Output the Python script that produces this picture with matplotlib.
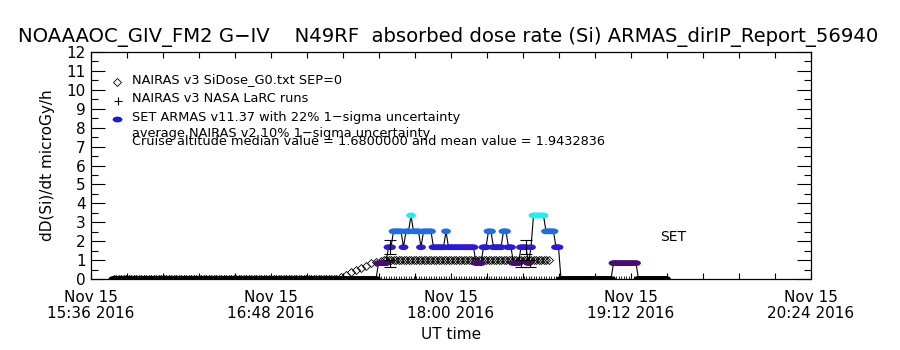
import numpy as np
import matplotlib
matplotlib.use('Agg')
import matplotlib.pyplot as plt
from matplotlib.path import Path
from matplotlib.transforms import Affine2D
from matplotlib.ticker import MultipleLocator, FixedLocator

# time axis: minutes after Nov 15 2016 15:36 UT
tick_minutes = [0, 72, 144, 216, 288]
tick_labels = ['Nov 15\n15:36 2016', 'Nov 15\n16:48 2016', 'Nov 15\n18:00 2016',
               'Nov 15\n19:12 2016', 'Nov 15\n20:24 2016']

# ARMAS 1-minute samples, stored as run lengths of dose quanta (0.84 microGy/h)
armas_start = 9
armas_quantum = 0.84
armas_levels = [0, 1, 2, 3, 2, 3, 4, 3, 2, 3, 2, 3, 2, 1, 2, 3, 2, 3, 2, 1, 2, 1, 2, 4, 3, 2, 0, 1, 0]
armas_counts = [106, 4, 2, 4, 1, 2, 1, 3, 1, 4, 5, 1, 11, 3, 2, 2, 4, 2, 2, 3, 3, 1, 1, 5, 4, 2, 21, 10, 12]
level_colors = ['black', '#4a0c74', '#2a18dc', '#1c6ee6', '#1cf0f0']

# NAIRAS v3 SiDose_G0 (diamonds): zero before climb, climb, cruise plateau
nairas_zero_start, nairas_zero_end = 9, 98
nairas_climb_t = [100, 102, 104, 106, 108, 110, 112, 114, 116]
nairas_climb_v = [0.10, 0.22, 0.35, 0.47, 0.60, 0.71, 0.82, 0.92, 0.97]
nairas_cruise_start, nairas_cruise_end = 117, 183
nairas_cruise_v = 0.99

# 22% uncertainty bars drawn on a few ARMAS points
errbar_t = [119.5, 119.5, 174.0, 172.0, 175.5]
errbar_v = [1.68, 0.84, 1.68, 0.84, 0.84]

set_label_pos = (227.6, 2.2)

# build series
level_idx = np.repeat(armas_levels, armas_counts)
armas_v = level_idx * armas_quantum
armas_c = [level_colors[i] for i in level_idx]
armas_t = armas_start + np.arange(len(armas_v))

zero_t = np.arange(nairas_zero_start, nairas_zero_end + 1)
cruise_t = np.arange(nairas_cruise_start, nairas_cruise_end + 1)
nairas_t = np.concatenate([zero_t, nairas_climb_t, cruise_t])
nairas_v = np.concatenate([np.zeros(len(zero_t)), nairas_climb_v,
                           np.full(len(cruise_t), nairas_cruise_v)])

# wide elliptical dot like the IDL symbol
ellipse = Path.unit_circle().transformed(Affine2D().scale(1.7, 1.0))

plt.rcParams['font.family'] = 'DejaVu Sans'
fig = plt.figure(figsize=(9, 3.5), dpi=100)
ax = fig.add_axes([91 / 900, 1 - 279 / 350, 720 / 900, 227 / 350])

ax.plot(nairas_t, nairas_v, ls='none', marker='D', ms=3.6, mfc='none',
        mec='black', mew=0.6, zorder=2)
ax.plot(armas_t, np.zeros(len(armas_t)), ls='none', marker='+', ms=4,
        color='black', mew=0.6, zorder=2)
ax.plot(armas_t, armas_v, color='black', lw=0.8, zorder=3)
ax.scatter(armas_t, armas_v, c=armas_c, marker=ellipse, s=50,
           linewidths=0, zorder=4)
ax.errorbar(errbar_t, errbar_v, yerr=0.22 * np.array(errbar_v), fmt='none',
            ecolor='black', elinewidth=0.8, capsize=4, capthick=0.8, zorder=5)

ax.set_xlim(0, 288)
ax.set_ylim(0, 12)
ax.xaxis.set_major_locator(FixedLocator(tick_minutes))
ax.set_xticklabels(tick_labels, fontsize=11, linespacing=1.1)
ax.xaxis.set_minor_locator(MultipleLocator(14.4))
ax.yaxis.set_major_locator(MultipleLocator(1))
ax.yaxis.set_minor_locator(MultipleLocator(0.5))
ax.tick_params(axis='y', which='major', direction='in', length=10, width=0.8,
               left=True, right=True, labelsize=11, pad=4)
ax.tick_params(axis='y', which='minor', direction='in', length=5, width=0.8,
               left=True, right=True)
ax.tick_params(axis='x', which='both', direction='in', length=4.5, width=0.8,
               top=True, bottom=True, pad=8)
for s in ax.spines.values():
    s.set_linewidth(0.9)

ax.set_ylabel('dD(Si)/dt microGy/h', fontsize=11, labelpad=8)
ax.set_xlabel('UT time', fontsize=11, labelpad=4)

# legend drawn as text, IDL style
tx = 0.057
lfs = 9.3
ax.plot([0.036], [0.87], transform=ax.transAxes, marker='D', ms=4, mfc='none',
        mec='black', mew=0.6, clip_on=False)
ax.plot([0.038], [0.783], transform=ax.transAxes, marker='+', ms=6,
        color='black', mew=0.8, clip_on=False)
ax.scatter([0.036], [0.704], transform=ax.transAxes, marker=ellipse, s=50,
           color='#1a18e8', linewidths=0, clip_on=False)
ax.text(tx, 0.877, 'NAIRAS v3 SiDose_G0.txt SEP=0', transform=ax.transAxes,
        fontsize=lfs, va='center')
ax.text(tx, 0.797, 'NAIRAS v3 NASA LaRC runs', transform=ax.transAxes,
        fontsize=lfs, va='center')
ax.text(tx, 0.712, 'SET ARMAS v11.37 with 22% 1\u2212sigma uncertainty',
        transform=ax.transAxes, fontsize=lfs, va='center')
ax.text(tx, 0.64, 'average NAIRAS v2 10% 1\u2212sigma uncertainty',
        transform=ax.transAxes, fontsize=lfs, va='center')
ax.text(tx, 0.607, 'Cruise altitude median value = 1.6800000 and mean value = 1.9432836',
        transform=ax.transAxes, fontsize=lfs, va='center')
ax.text(set_label_pos[0], set_label_pos[1], 'SET', fontsize=10, va='center')

fig.text(448 / 900, 1 - 37 / 350,
         'NOAAAOC_GIV_FM2 G\u2212IV    N49RF  absorbed dose rate (Si) ARMAS_dirIP_Report_56940',
         fontsize=14.1, ha='center', va='center')

fig.savefig('out.png', dpi=100)
